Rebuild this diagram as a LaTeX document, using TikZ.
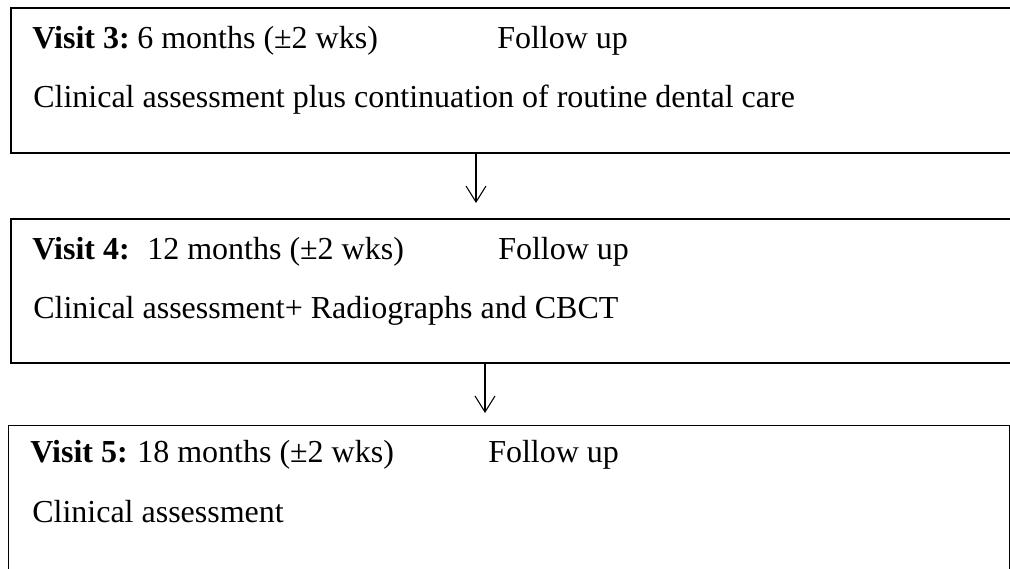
\documentclass[tikz,border=0pt]{standalone}
\usepackage{fontspec}
\setmainfont{Liberation Serif}
\usetikzlibrary{arrows.meta}

\tikzset{
  visitbox/.style={draw, line width=1.4pt, anchor=north west, inner sep=0pt},
  visittext/.style={anchor=base west, inner sep=0pt, font=\fontsize{24}{29}\selectfont},
  flow/.style={line width=0.8pt, -{Straight Barb[length=12pt,width=15pt,line width=0.8pt]}},
}

\begin{document}
\begin{tikzpicture}[x=0.75pt,y=-0.75pt]
\path[use as bounding box, clip] (0,0) rectangle (1010,568);
% visit boxes
\node[visitbox, minimum width=765pt, minimum height=108.75pt] (box3) at (10,7) {};
\node[visitbox, minimum width=765pt, minimum height=108pt] (box4) at (10,218) {};
\node[visitbox, line width=1.1pt, minimum width=750.75pt, minimum height=146.25pt] (box5) at (8,425) {};
% visit 3
\node[visittext] (head3) at (32,48) {\textbf{Visit 3:}};
\node[visittext] (when3) at (137,48) {6 months (±2 wks)};
\node[visittext] (kind3) at (497,48) {Follow up};
\node[visittext] (task3) at (33,107) {Clinical assessment plus continuation of routine dental care};
% visit 4
\node[visittext] (head4) at (32,259) {\textbf{Visit 4:}};
\node[visittext] (when4) at (147,259) {12 months (±2 wks)};
\node[visittext] (kind4) at (498,259) {Follow up};
\node[visittext] (task4) at (33,318) {Clinical assessment+ Radiographs and CBCT};
% visit 5
\node[visittext] (head5) at (30,462) {\textbf{Visit 5:}};
\node[visittext] (when5) at (137,462) {18 months (±2 wks)};
\node[visittext] (kind5) at (488,462) {Follow up};
\node[visittext] (task5) at (32,522) {Clinical assessment};
% arrows between visits
\coordinate (tip3) at (476,203);
\coordinate (tip4) at (485,413);
\draw[flow] (box3.south -| tip3) -- (tip3);
\draw[flow] (box4.south -| tip4) -- (tip4);
\end{tikzpicture}
\end{document}
